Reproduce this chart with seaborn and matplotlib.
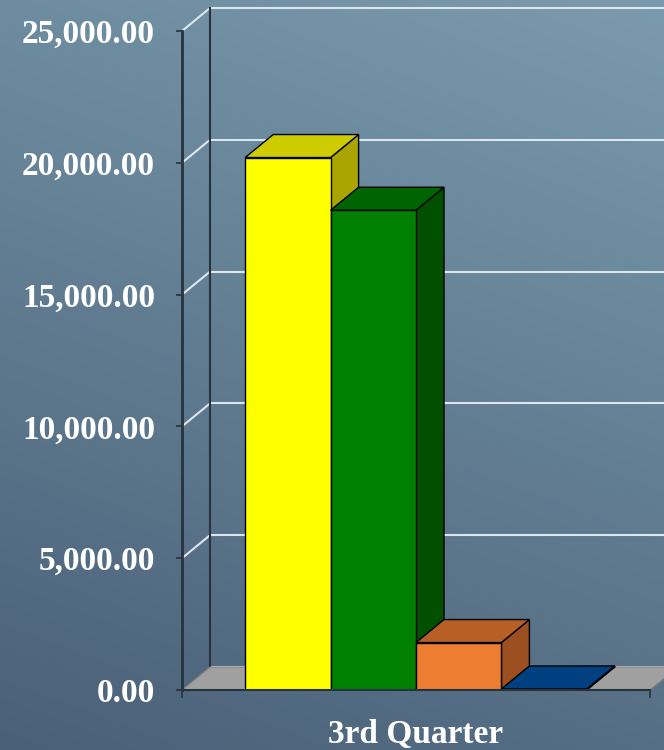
import numpy as np
import pandas as pd
import matplotlib
matplotlib.use('Agg')
import matplotlib.pyplot as plt
import seaborn as sns
from matplotlib.patches import Polygon
from matplotlib.colors import LinearSegmentedColormap

# data
quarters = ['3rd Quarter']
series = ['S1', 'S2', 'S3', 'S4']
values = [20200, 18200, 1800, 40]
front_colors = ['#ffff00', '#008000', '#ed7d31', '#004e98']
top_colors = ['#cccc00', '#006400', '#b85f26', '#004080']
side_colors = ['#aaa400', '#005000', '#9c5022', '#00356a']
yticks = [0, 5000, 10000, 15000, 20000, 25000]

df = pd.DataFrame({'quarter': quarters * len(series), 'series': series, 'value': values})

DX, DY = 28, 23  # depth offset in pixels
grid_c = '#dde6ec'
axis_c = '#26333d'
font = 'Liberation Serif'

fig = plt.figure(figsize=(6.64, 7.5), dpi=100)

# gradient background
bg = fig.add_axes([0, 0, 1, 1], zorder=-10)
yy, xx = np.mgrid[0:1:300j, 0:1:300j]
t = 0.75 * (1 - yy) + 0.25 * xx
cmap = LinearSegmentedColormap.from_list('bg', ['#4a6078', '#7a9bad'])
bg.imshow(t, cmap=cmap, aspect='auto', extent=[0, 1, 0, 1], origin='upper')
bg.axis('off')

ax = fig.add_axes([182 / 664, 60 / 750, 468 / 664, 659 / 750])
sns.barplot(data=df, x='quarter', y='value', hue='series', palette=front_colors,
            width=0.73, gap=0, edgecolor='black', linewidth=1, legend=False,
            saturation=1, ax=ax)
ax.set_xlim(-0.5, 0.5)
ax.set_ylim(0, 25000)
ax.patch.set_alpha(0)


def back(x, y):
    d = ax.transData.transform(np.column_stack([x, y]))
    d = d + [DX, DY]
    return ax.transData.inverted().transform(d)


# floor
fb = back([-0.5, 0.5], [0, 0])
ax.add_patch(Polygon([(-0.5, 0), (0.5, 0), tuple(fb[1]), tuple(fb[0])],
                     closed=True, facecolor='#a0a0a0', edgecolor='#808080',
                     lw=0.8, zorder=1, clip_on=False))

# back wall gridlines and side wall diagonals
for v in yticks:
    b = back([-0.5, 0.5], [v, v])
    ax.plot([b[0][0], b[1][0] + 0.1], [b[0][1], b[1][1]], color=grid_c, lw=1.5,
            zorder=0.8, clip_on=False, solid_capstyle='butt')
    if v > 0:
        ax.plot([-0.5, b[0][0]], [v, b[0][1]], color=grid_c, lw=1.5,
                zorder=0.8, clip_on=False)
wall = back([-0.5, -0.5], [0, 25000])
ax.plot(wall[:, 0], wall[:, 1], color=axis_c, lw=1.5, zorder=0.9, clip_on=False)

# 3d faces for the bars (left to right so the right bar covers the left side face)
bars = []
for c in ax.containers:
    bars.extend(list(c))
for i, p in enumerate(bars):
    x0 = p.get_x()
    x1 = x0 + p.get_width()
    h = p.get_height()
    z = 2 + i * 0.1
    p.set_zorder(z + 0.05)
    tb = back([x0, x1], [h, h])
    ax.add_patch(Polygon([(x0, h), (x1, h), tuple(tb[1]), tuple(tb[0])], closed=True,
                         facecolor=top_colors[i], edgecolor='black', lw=1,
                         zorder=z + 0.06, clip_on=False))
    sb = back([x1, x1], [0, h])
    ax.add_patch(Polygon([(x1, 0), (x1, h), tuple(sb[1]), tuple(sb[0])], closed=True,
                         facecolor=side_colors[i], edgecolor='black', lw=1,
                         zorder=z + 0.04, clip_on=False))

# axes styling
for s in ['top', 'right']:
    ax.spines[s].set_visible(False)
ax.spines['left'].set_color(axis_c)
ax.spines['left'].set_linewidth(2)
ax.spines['bottom'].set_color(axis_c)
ax.spines['bottom'].set_linewidth(1.5)
ax.spines['left'].set_zorder(3)

ax.set_yticks(yticks)
ax.set_yticklabels(['{:,.2f}'.format(v) for v in yticks])
ax.tick_params(axis='y', length=4.5, width=1.2, color=axis_c, pad=15)
ax.tick_params(axis='x', which='major', length=0, pad=21)
ax.set_xticks([-0.5, 0.5], minor=True)
ax.tick_params(axis='x', which='minor', length=6, width=1.2, color=axis_c)
for lab in ax.get_yticklabels() + ax.get_xticklabels():
    lab.set_fontfamily(font)
    lab.set_fontweight('bold')
    lab.set_fontsize(24)
    lab.set_color('white')
ax.set_xlabel('')
ax.set_ylabel('')

fig.savefig('out.png', dpi=100)
